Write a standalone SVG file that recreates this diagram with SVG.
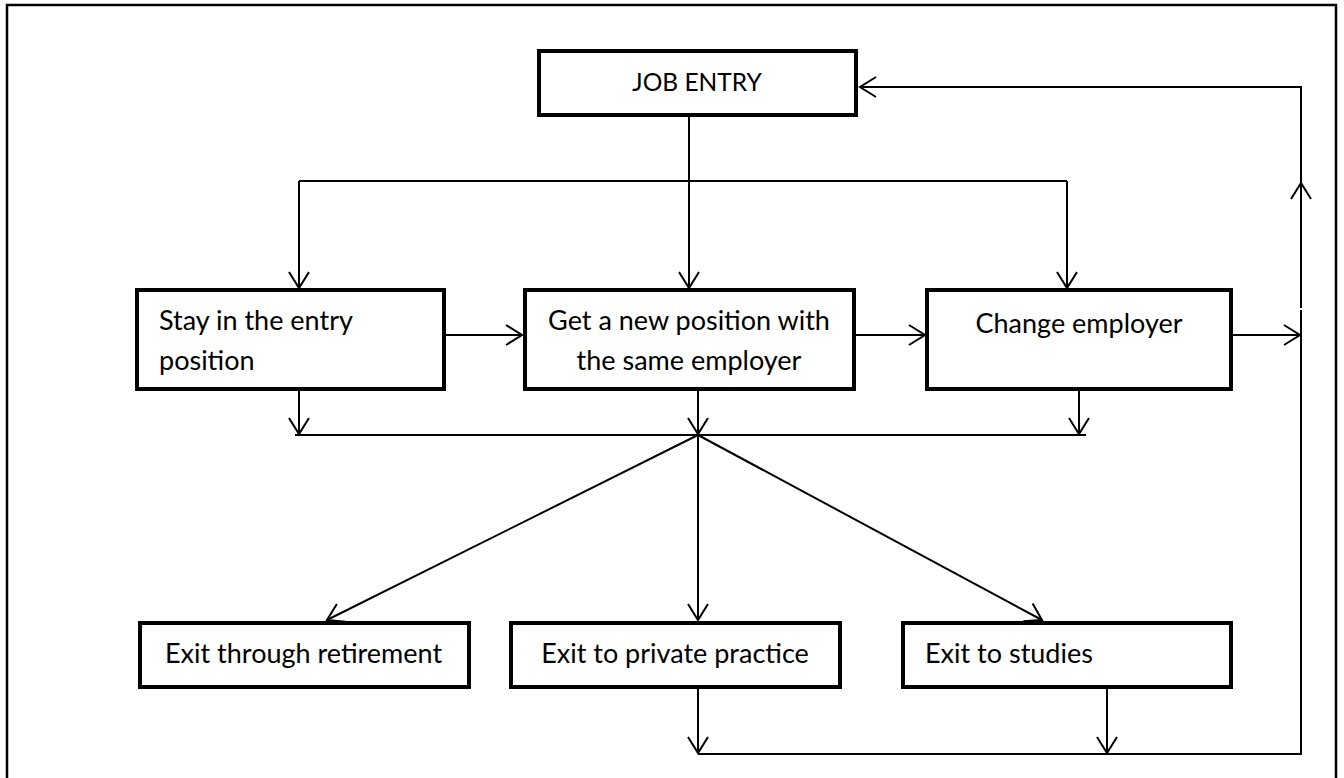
<svg xmlns="http://www.w3.org/2000/svg" width="1344" height="778" viewBox="0 0 1344 778">
<defs>
<style>
.box{fill:#fff;stroke:#000;stroke-width:4}
.t{font-family:Lato,"Open Sans",sans-serif;font-size:27px;fill:#000}
.c{fill:none;stroke:#000;stroke-width:2}
.ar{marker-end:url(#arr)}
</style>
<marker id="arr" markerUnits="userSpaceOnUse" markerWidth="24" markerHeight="24" viewBox="-20 -12 24 24" refX="0" refY="0" orient="auto">
<path d="M-16,-10 L0,0 L-16,10" fill="none" stroke="#000" stroke-width="2"/>
</marker>
</defs>
<rect x="0" y="0" width="1344" height="778" fill="#fff"/>
<rect x="7" y="5" width="1329" height="790" fill="none" stroke="#000" stroke-width="2.5"/>
<g id="connectors">
<path class="c" d="M689,117 V181"/>
<path class="c" d="M299,181 H1067"/>
<path class="c ar" d="M299,181 V288"/>
<path class="c ar" d="M689,181 V288"/>
<path class="c ar" d="M1067,181 V288"/>
<path class="c ar" d="M446,335 H522"/>
<path class="c ar" d="M856,335 H925"/>
<path class="c ar" d="M1233,335 H1300"/>
<path class="c ar" d="M299,391 V434"/>
<path class="c ar" d="M698,391 V434"/>
<path class="c ar" d="M1079,391 V434"/>
<path class="c" d="M295,435 H1086"/>
<path class="c ar" d="M698,435 L327,620"/>
<path class="c ar" d="M698,435 V620"/>
<path class="c ar" d="M698,435 L1042,620"/>
<path class="c ar" d="M698,689 V753"/>
<path class="c ar" d="M1107,689 V753"/>
<path class="c" d="M698,754 H1301 V310"/>
<path class="c ar" d="M1301,308 V183"/>
<path class="c ar" d="M1301,183 V87 H860"/>
</g>
<g id="job-entry">
<rect class="box" x="539" y="51" width="317" height="64"/>
<text class="t" x="697" y="91" text-anchor="middle" style="font-size:24.5px">JOB ENTRY</text>
</g>
<g id="stay">
<rect class="box" x="137" y="290" width="307" height="99"/>
<text class="t" x="159" y="330">Stay in the entry</text>
<text class="t" x="159" y="370">position</text>
</g>
<g id="new-position">
<rect class="box" x="525" y="290" width="329" height="99"/>
<text class="t" x="689" y="330" text-anchor="middle">Get a new position with</text>
<text class="t" x="689" y="370" text-anchor="middle">the same employer</text>
</g>
<g id="change-employer">
<rect class="box" x="927" y="290" width="304" height="99"/>
<text class="t" x="1079" y="333" text-anchor="middle">Change employer</text>
</g>
<g id="retirement">
<rect class="box" x="140" y="623" width="329" height="64"/>
<text class="t" x="165" y="663">Exit through retirement</text>
</g>
<g id="private-practice">
<rect class="box" x="511" y="623" width="329" height="64"/>
<text class="t" x="675" y="663" text-anchor="middle">Exit to private practice</text>
</g>
<g id="studies">
<rect class="box" x="903" y="623" width="328" height="64"/>
<text class="t" x="925" y="663">Exit to studies</text>
</g>
</svg>
